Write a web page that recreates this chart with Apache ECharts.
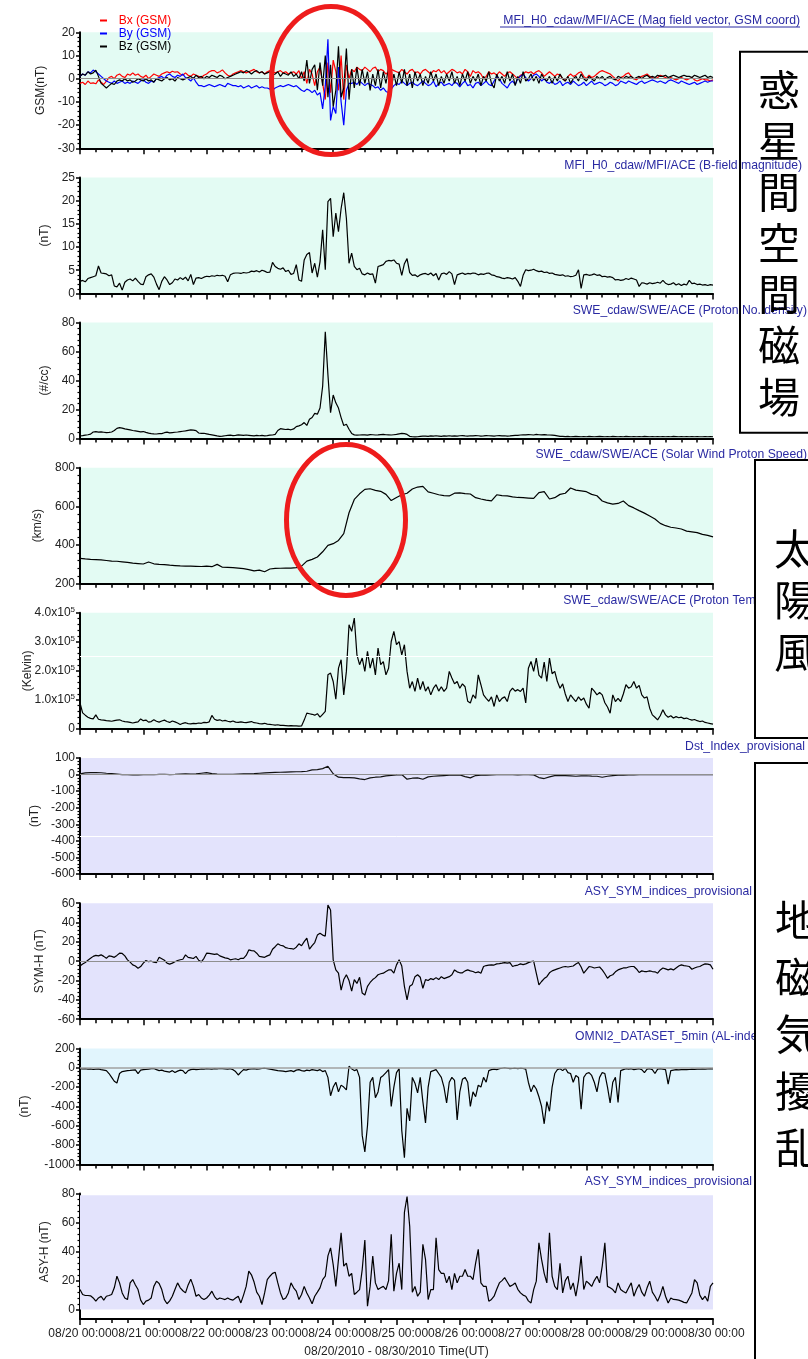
<!DOCTYPE html>
<html>
<head>
<meta charset="utf-8">
<script src="https://cdn.jsdelivr.net/npm/echarts@6/dist/echarts.min.js"></script>
<style>
  html, body { margin: 0; padding: 0; background: #ffffff; }
  #chart { width: 808px; height: 1359px; }
</style>
</head>
<body>
<div id="chart"></div>
<script>
// ACE solar wind / geomagnetic index stack, 2010-08-20 00:00 to 2010-08-30 00:00 UT.
// Hourly series start at 08/20 00:00 (hour 0); the *2h series are sampled every 2 hours.

const dayLabels = ['08/20 00:00', '08/21 00:00', '08/22 00:00', '08/23 00:00', '08/24 00:00',
  '08/25 00:00', '08/26 00:00', '08/27 00:00', '08/28 00:00', '08/29 00:00', '08/30 00:00'];

// IMF components, GSM (nT), hourly
const bx = [
  -2, -1.5, -2.5, -1, -2, -1.8, -2.2, -0.5, -1.5, -2.5, -1,
  0.5, 1, 0, 1.5, 2, 1, 0.5, 2, 1.5, 2.5,
  1.5, 2, 1, 0.5, 1.5, 0, 1, 2, 1.5, 1,
  2, 2.5, 3, 2.5, 3.2, 2.8, 3, 2, 1.5, 2.5,
  1.5, 1, 2, 1.5, 1, 0.5, 1.5, 2, 3, 3.5,
  3.5, 2.5, 3, 3.8, 2.5, 1.5, 1, 2, 2.5, 3,
  3.5, 3, 2.5, 3, 3.5, 4, 3, 2.5, 3, 2,
  3, 3.5, 3, 2.5, 3, 3.5, 2.5, 3, 2, 2.5,
  3, 2, 3.5, 0, 3, -2, 4, 2, -3, 3,
  5, -2, -9, 7, -6, 8, 3, -5, 10, -9,
  6, 0, 4, 3, 5, 4, 3.5, 5, 4, 3,
  4.5, 5, 3, 4, 3.5, 2, 3, 4, 3.5, 3,
  2.5, 4, 3, 2, 3.5, 4, 2.5, 3, 2, 3.5,
  4, 3, 2, 3.5, 3, 4, 2.5, 3.5, 2, 3,
  4, 3.5, 2.5, 3, 2, 4, 3, 1, 3.5, 2.5,
  3, 2, 0, 1, 3, 2, 2.5, 1.5, 3, 2,
  1, 2.5, 3, 2, 1, 0, 1.5, 2, 3, 2.5,
  3, 2, 3, 3.5, 2.5, 1, 2, 3, 2, 1,
  2, 1.5, 0, -1, 1, 2, 1, 1.5, 2.5, 3,
  1, 0, 1.5, 0.5, 1, 2, 3, 3.5, 3, 2.5,
  2, 1, 0, -1, 0.5, 1, 2, 2.5, 1, 0,
  -0.5, 0.5, 1, 1.5, 2, 1, 0.5, 0, 0.5, 1.5,
  1, 0.5, 0, 0.5, 0, -0.5, 0, 0.5, 0, -0.5,
  0, 0.5, -0.5, -1, -0.5, 0, -0.5, -0.5, -1, -0.5
];
const by = [
  1, 2, 1.5, 3, 2.5, 3.7, 3, 2, 1, 0, -1,
  -1.5, -2, -1, -2, -1.5, -1, -2, -1.5, -2, -1,
  -1.5, -2, -1, -0.5, -1.5, -2, -1, -1.5, 0, 0.5,
  1, 0, 1.5, 2, 1, 0.5, 1.5, 1, 2, 0.5,
  0, -1, 0.5, -1.5, -3, -3, -3.5, -3, -2.5, -3,
  -3.5, -3, -2.5, -3, -3.5, -2, -2.5, -3, -3, -3.5,
  -3, -4, -3.5, -3, -4, -3.5, -3, -4, -3.5, -4,
  -4, -4.5, -5, -4, -3.5, -3, -3.5, -3, -2.5, -3,
  -3.5, -3, -4, -5, -5.5, -4.5, -5, -6, -5, -7,
  -6, -13, -3, 17, -18, -12, -15, 5, -10, -20,
  -5, -2, -2, -1.5, -2.5, -1, -2, -3, -2, -2.5,
  -3, -4, -3.5, -5, -4, -5.5, -6, -4.5, -3, -2,
  -2.5, -1, -2, -3, -2, -1.5, -2.5, -3, -2, -1,
  -2, -3, -2.5, -1, -3.5, -2, -1.5, -3, -2.5, -2,
  -3, -1.5, -2, -3.5, -2, -1, -3, -2.5, -4, -2,
  -1.5, -3, -2, -1, -2.5, -3, -1, 1, 0, -2,
  -3, -4, -2, -1, -2.5, 0, 1, 2, 0.5, -1,
  0, 1.5, 2, 1, -1, 0, -1.5, -2, -1, -2.5,
  -2, -1, -3, -2, -1.5, -2.5, -1, -2, -3, -2.5,
  -1.5, -3, -2, -1, -2.5, -2, -1.5, -2, -3, -2.5,
  -1.5, -2, -3, -2.5, -1, -1.5, -2, -1, -1.5, -2,
  -2.5, -1.5, -1, -2, -1.5, -1, -0.5, -1, -1.5, -1,
  -1.5, -2, -1, -0.5, -1, -1.5, -2, -1, -1.5, -2,
  -2.5, -2, -1.5, -2.5, -2, -1.5, -1, -1.5, -1, -1
];
const bz = [
  1, 2, 1.5, 3, 2, 2.5, 3.7, 1, -2, -3, -4,
  -3, -2, -2.5, -1, -0.5, -1, 0, -1, -0.5, -1.5,
  -1, 0, -0.5, -1, 0, -1, -0.5, -1.5, 0, -0.5,
  -1, 0, 0.5, -0.5, 0, -1, 0.5, 0, -0.5, 0,
  0.5, 1, 0, 1.5, 0.5, 1, 0, 1, 0.5, 1.5,
  1, 0.5, 1.5, 1, 0, 0.5, 1, 1.5, 2, 2.5,
  3, 2.5, 3.5, 3, 2, 3, 3.5, 2.5, 3, 2,
  2.5, 3, 1.5, 2, 3, 1, 2.5, 2, 1.5, 3,
  1, 2, 0, 3, -1, 8, -2, 4, 6, -5,
  7, -3, 10, -8, 6, -12, -5, 14, -8, -4,
  13, -9, 4, -4, 5, -3, 4, -2, 3, -5,
  2, -3, 4, -4, 3, -2, 5, -4, 2, -3,
  3, -2, 4, -3, 2, -4, 3, -1, 2, -3,
  1, -2, 3, -1, 2, -3, 1, -2, 2, -1,
  3, -2, 1, -3, 2, -1, 3, -2, 1, -1,
  2, -3, 1, -1, 3, -2, -4, 2, -1, 1,
  -2, 3, -1, 2, -3, 1, -2, 3, -1, 0,
  2, -1, 1, -2, 2, 0, -1, 1, -2, 1,
  -1, 2, 0, -1, 1, -2, 0, 1, -1, 2,
  0, -1, 1, 0, -1, 1, 0, 1, -0.5, 0.5,
  1, 0, -0.5, 1, 0.5, 0, 1, 0.5, 1, 0,
  0.5, 1, 0, 1, 1.5, 0.5, 1, 0.5, 1.5, 1,
  1, 1.5, 0.5, 1, 1.5, 1, 0.5, 1, 1.5, 1,
  1, 0.5, 1.5, 1, 0.5, 1, 1.5, 0.5, 1, 0.5
];
// |B| (nT), hourly
const bmag = [
  2.6, 2.8, 2.5, 3.2, 3.4, 3.6, 3.8, 5.9, 4.4, 4.3, 4.2,
  3.8, 4.0, 1.6, 1.4, 2.2, 0.7, 2.4, 2.9, 3.1, 2.7,
  3.3, 2.6, 2.0, 1.9, 3.6, 4.0, 4.2, 3.5, 2.0, 0.8,
  2.6, 3.6, 2.9, 1.9, 2.3, 3.1, 2.9, 3.4, 3.0, 3.5,
  2.7, 4.1, 1.9, 3.3, 3.4, 3.2, 3.5, 3.7, 3.6, 3.8,
  3.7, 3.9, 3.8, 3.9, 3.7, 2.5, 4.0, 4.3, 4.4, 4.4,
  4.3, 4.5, 4.4, 4.5, 4.8, 4.7, 4.9, 4.6, 5.0, 4.8,
  4.5, 4.6, 6.7, 5.8, 5.4, 5.2, 5.5, 4.7, 5.0, 4.1,
  4.3, 6.2, 2.9, 2.6, 7.2, 8.4, 8.8, 4.4, 6.5, 3.5,
  6.8, 13.7, 5.1, 19.8, 20.5, 12.2, 17.3, 13.3, 18.3, 21.7,
  16.2, 6.5, 8.7, 5.8, 5.1, 5.4, 4.2, 4.0, 4.4, 4.1,
  4.2, 2.2, 5.8, 6.0, 6.2, 6.9, 7.1, 7.0, 7.2, 6.5,
  6.3, 3.9, 6.4, 7.5, 4.5, 3.9, 4.0, 3.6, 4.0, 4.2,
  4.3, 4.0, 4.4, 3.8, 4.3, 2.9, 4.2, 4.4, 4.1, 4.7,
  4.2, 1.9, 4.0, 4.2, 4.4, 4.1, 4.3, 4.2, 4.4, 4.3,
  4.0, 4.2, 4.1, 4.3, 4.4, 4.0, 3.9, 3.6, 3.5, 3.3,
  3.2, 3.4, 3.3, 3.1, 3.4, 2.6, 1.5, 3.9, 5.1, 4.9,
  5.0, 5.2, 4.9, 4.7, 4.8, 4.5, 4.6, 4.3, 4.4, 4.1,
  4.0, 3.9, 4.0, 3.7, 3.8, 3.6, 3.7, 3.9, 5.1, 1.1,
  4.0, 4.1, 3.9, 4.0, 4.2, 3.9, 4.0, 3.6, 3.7, 3.5,
  3.6, 3.4, 2.9, 3.0, 2.8, 2.9, 3.2, 3.0, 3.3, 3.1,
  2.9, 1.5, 2.3, 2.2, 2.0, 2.3, 2.1, 2.2, 2.4, 2.2,
  2.8, 2.2, 1.9, 2.0, 2.3, 1.8, 2.1, 1.7, 2.0, 1.8,
  2.8, 2.1, 2.2, 1.9, 2.0, 1.8, 1.9, 1.7, 1.9, 1.8
];
// Proton number density (#/cc), hourly
const density = [
  1.8, 2.0, 2.3, 2.6, 3.0, 4.5, 4.8, 4.4, 4.6, 4.3, 4.0,
  4.2, 4.5, 5.5, 7.0, 7.5, 7.2, 6.6, 6.3, 5.9, 5.5,
  5.2, 4.9, 4.6, 4.8, 4.2, 3.7, 3.4, 3.2, 3.1, 3.3,
  3.4, 4.0, 4.4, 3.9, 4.1, 4.3, 4.5, 4.8, 5.0, 5.2,
  5.6, 6.0, 5.8, 5.4, 3.8, 3.5, 3.6, 3.2, 2.8, 2.5,
  2.2, 1.8, 1.5, 1.6, 1.9, 2.1, 2.3, 2.0, 2.2, 2.5,
  2.3, 2.1, 2.4, 2.2, 2.0, 1.8, 2.1, 1.9, 2.2, 1.8,
  2.0, 2.3, 2.4, 2.8, 5.5, 6.8, 6.5, 6.2, 6.4, 6.0,
  6.6, 8.2, 8.7, 9.5, 11.0, 9.0, 13.2, 14.5, 17.3, 16.8,
  21.0, 36.0, 73.6, 44.0, 17.8, 30.0, 24.6, 21.0, 14.4, 9.0,
  9.8, 6.4, 3.5, 2.5, 2.3, 2.4, 2.6, 2.5, 2.3, 2.7,
  2.6, 2.4, 2.5, 2.7, 2.8, 2.6, 2.5, 2.4, 2.6, 2.8,
  3.2, 3.5, 3.4, 2.8, 1.5, 1.2, 1.1, 1.2, 1.4, 1.6,
  1.7, 1.5, 1.8, 1.6, 1.9, 1.7, 1.5, 1.8, 1.6, 1.9,
  1.7, 1.8, 1.6, 1.9, 2.0, 1.8, 1.7, 1.9, 1.8, 2.0,
  1.9, 1.7, 1.8, 2.0, 1.9, 1.8, 1.7, 1.9, 2.0, 1.8,
  1.9, 1.7, 1.8, 2.0, 2.1, 2.2, 2.4, 2.6, 2.5, 2.7,
  2.6, 2.4, 2.8, 2.6, 2.5, 2.7, 2.5, 2.4, 2.3, 2.1,
  1.8, 1.5, 1.4, 1.3, 1.4, 1.2, 1.3, 1.4, 1.3, 1.2,
  1.3, 1.2, 1.4, 1.3, 1.2, 1.3, 1.4, 1.3, 1.2, 1.3,
  1.2, 1.4, 1.3, 1.2, 1.3, 1.2, 1.4, 1.3, 1.2, 1.3,
  1.2, 1.3, 1.2, 1.4, 1.3, 1.2, 1.3, 1.2, 1.3, 1.2,
  1.3, 1.2, 1.3, 1.2, 1.4, 1.3, 1.2, 1.3, 1.2, 1.3,
  1.2, 1.3, 1.2, 1.3, 1.2, 1.2, 1.3, 1.2, 1.3, 1.2
];
// Solar wind proton speed (km/s), every 2 hours
const speed2h = [
  331, 328, 326, 325, 323, 320, 317, 316, 313, 310,
  306, 304, 302, 312, 303, 300, 299, 296, 294, 292,
  291, 291, 290, 289, 291, 288, 300, 285, 284, 283,
  281, 278, 273, 266, 270, 262, 276, 279, 280, 281,
  281, 283, 291, 317, 326, 338, 365, 398, 407, 424,
  459, 567, 636, 665, 688, 691, 683, 678, 662, 630,
  646, 660, 668, 690, 700, 703, 675, 668, 660, 656,
  654, 668, 670, 666, 664, 645, 638, 632, 628, 660,
  656, 654, 649, 646, 645, 643, 641, 671, 676, 638,
  645, 662, 668, 695, 684, 680, 676, 662, 655, 628,
  618, 612, 615, 628, 604, 592, 578, 565, 550, 535,
  512, 500, 492, 488, 483, 472, 468, 464, 455, 450,
  442
];
// Proton temperature (units of 1e5 K), hourly
const tempE5 = [
  0.89, 0.55, 0.47, 0.40, 0.36, 0.34, 0.48, 0.33, 0.31, 0.30, 0.28,
  0.27, 0.26, 0.28, 0.30, 0.31, 0.27, 0.25, 0.24, 0.22, 0.20,
  0.22, 0.24, 0.34, 0.28, 0.30, 0.23, 0.25, 0.31, 0.26, 0.23,
  0.27, 0.30, 0.25, 0.22, 0.27, 0.24, 0.20, 0.15, 0.19, 0.21,
  0.18, 0.17, 0.19, 0.18, 0.20, 0.19, 0.22, 0.21, 0.24, 0.46,
  0.33, 0.29, 0.31, 0.27, 0.29, 0.26, 0.24, 0.27, 0.23, 0.22,
  0.24, 0.22, 0.21, 0.23, 0.25, 0.21, 0.20, 0.18, 0.17, 0.19,
  0.16, 0.15, 0.14, 0.13, 0.14, 0.12, 0.12, 0.11, 0.10, 0.11,
  0.10, 0.10, 0.09, 0.10, 0.30, 0.54, 0.52, 0.50, 0.47, 0.52,
  0.40, 0.50, 0.60, 1.86, 1.92, 1.63, 1.02, 2.09, 2.38, 1.17,
  1.98, 3.59, 3.36, 3.82, 2.55, 2.21, 2.44, 1.98, 2.67, 2.09,
  2.44, 1.86, 2.78, 2.21, 2.32, 1.86, 2.09, 3.01, 3.36, 2.90,
  3.01, 2.55, 2.90, 1.98, 1.40, 1.63, 1.29, 1.75, 1.35, 1.63,
  1.30, 1.45, 1.17, 1.40, 1.52, 1.30, 1.45, 1.29, 1.40, 1.98,
  1.75, 1.55, 1.63, 1.40, 1.55, 1.45, 0.95, 0.89, 1.17, 1.05,
  1.86, 1.52, 1.17, 1.05, 0.95, 1.10, 0.77, 1.17, 0.94, 1.05,
  1.10, 0.94, 1.29, 1.40, 1.30, 1.35, 1.29, 1.40, 0.89, 2.09,
  2.32, 1.98, 2.44, 1.85, 1.75, 2.30, 1.63, 2.44, 1.90, 1.98,
  1.63, 1.40, 1.55, 1.20, 0.94, 1.17, 1.05, 0.94, 1.10, 0.98,
  1.06, 0.85, 0.71, 1.40, 1.30, 1.17, 1.25, 1.17, 0.90, 0.75,
  0.54, 1.17, 0.94, 1.05, 0.94, 1.20, 1.52, 1.40, 1.45, 1.63,
  1.40, 1.50, 1.17, 1.06, 1.10, 0.71, 0.48, 0.40, 0.31, 0.45,
  0.66, 0.48, 0.40, 0.45, 0.37, 0.42, 0.38, 0.40, 0.35, 0.37,
  0.33, 0.30, 0.32, 0.28, 0.25, 0.27, 0.22, 0.20, 0.18, 0.16
];
// Dst index (nT), every 2 hours
const dst2h = [
  4, 10, 12, 12, 11, 8, 6, 3, 0, -1,
  -2, -2, -1, 0, -1, 1, 2, 0, 1, 3,
  4, 3, 4, 8, 12, 6, 3, 2, 1, 2,
  3, 4, 5, 6, 8, 10, 12, 13, 14, 15,
  16, 17, 18, 20, 28, 30, 36, 50, 5, -16,
  -18, -19, -20, -26, -30, -20, -16, -14, -8, -5,
  -2, 0, -28, -22, -20, -28, -14, -10, -8, -6,
  -4, -3, -2, -12, -20, -6, -4, -3, -2, -1,
  -1, 0, -1, -2, -1, 0, -2, -18, -24, -14,
  -6, -5, -6, -8, -10, -8, -7, -9, -10, -16,
  -10, -6, -4, -3, -2, -2, -1, -1, -1, 0,
  -1, -1, 0, 0, -1, 0, 0, -1, 0, 0,
  0
];
// SYM-H (nT), hourly
const symH = [
  -5, -3, -1.4, 1, 3, 5, 6, 5.5, 6.6, 5, 3,
  5.5, 5, 4, 6, 8.3, 8, 5.5, 1.4, -1, -3.8,
  -5, -7.2, -5.5, -2, 0.7, -0.5, 0, -1, -1.4, 4,
  2.5, 1, -2, -3, -2, -0.5, 0.7, 1.5, 2, 6.6,
  4, 3.5, 2.8, 5, 1, -0.7, 3, 8.3, 8, 7.6,
  7, 7.6, 5.5, 4.5, 3.5, 3, 1.4, 2, 2.5, 1.5,
  3, 3, 6, 11.7, 11, 10.7, 8.3, 5, 4.5, 4,
  5.5, 6.6, 12.4, 15, 18, 16.5, 15.9, 14, 13.4, 13.1,
  12.5, 14.5, 18, 16, 20.3, 23.8, 12.4, 16, 19.3, 27,
  29, 27, 26, 58, 53, 1.4, -9, -12.4, -30, -19,
  -14, -20, -31, -19, -23, -16.6, -33, -35, -26, -22,
  -19, -17, -14, -13, -12.4, -10.7, -9, -9, -12.4, -3.8,
  1.4, -5, -26, -40, -26, -24, -16, -14, -16.6, -28,
  -19, -20, -18, -19, -17, -19, -16, -18, -17, -16,
  -14, -9, -11, -12, -12, -10, -9, -10, -10.7, -12,
  -11, -12.4, -5.5, -4.5, -4, -3.8, -4, -2.8, -2.5, -2,
  -1.4, -2, -1.4, -5.5, -4.5, -4, -2.8, -3.5, -2.8, -1.5,
  -0.5, 0, -12.4, -24.5, -21, -18, -16, -12, -10, -9,
  -8, -7, -6, -5.5, -6, -5.5, -5, -3, -1.4, -6,
  -12.4, -9, -5.5, -6, -7, -6.5, -6, -9, -13, -17.6,
  -15, -14, -11, -9, -8, -7, -7, -6, -5.5, -5.5,
  -8, -11.7, -10, -10.7, -10.7, -10, -10.7, -11, -12.4, -9,
  -7, -8, -9, -8, -9, -7, -5, -3.8, -4.5, -5,
  -5.5, -8.3, -7, -6, -5.5, -4, -2.8, -3, -3.8, -8.3
];
// AL index (nT), hourly
const al = [
  -10, -12, -10, -15, -12, -18, -15, -12, -20, -25, -30,
  -60, -100, -140, -158, -60, -40, -35, -30, -28, -25,
  -22, -60, -25, -20, -18, -15, -10, -8, -20, -30,
  -25, -35, -40, -45, -30, -50, -35, -25, -30, -60,
  -30, -20, -15, -20, -18, -12, -15, -10, -12, -15,
  -10, -12, -8, -10, -12, -15, -10, -20, -40, -75,
  -45, -20, -25, -15, -12, -10, -15, -12, -8, -5,
  -10, -15, -20, -25, -30, -32, -35, -40, -35, -30,
  -40, -25, -20, -30, -35, -25, -30, -20, -25, -30,
  -20, -40, -30, -100, -290, -200, -150, -250, -180, -200,
  -230, 15, -10, -30, -20, -100, -700, -870, -600, -150,
  -100, -310, -250, -100, -80, -50, -20, -400, -200, -50,
  -10, -650, -930, -420, -550, -100, -160, -260, -100, -350,
  -570, -200, -40, -30, -20, -60, -100, -200, -365, -150,
  -100, -130, -540, -250, -120, -100, -150, -400, -250, -300,
  -180, -200, -100, -150, -30, -20, -15, -20, -10, -5,
  0, -5, -10, -8, -5, -10, -5, -8, -15, -150,
  -250, -180, -220, -300, -400, -580, -350, -450, -200, -60,
  -20, -10, -30, -5, -50, -60, -150, -80, -100, -430,
  -100, -60, -50, -80, -150, -250, -100, -50, -60, -200,
  -365, -150, -100, -360, -30, -20, -10, -15, -10, -20,
  -15, -10, -20, -50, -15, -10, -20, -60, -15, -10,
  -15, -20, -170, -30, -25, -20, -22, -20, -18, -20,
  -18, -15, -16, -14, -15, -12, -14, -12, -10, -12
];
// ASY-H (nT), hourly
const asyH = [
  13.8, 10.4, 9.7, 9.7, 9.5, 8, 5.8, 8, 9.2, 6.5, 9.2,
  9.7, 10.4, 15, 23, 18.4, 11.5, 8, 6.9, 18.4, 20.7,
  17, 13.8, 6.5, 3.5, 5.8, 6.5, 8, 16, 19.6, 18,
  13.8, 6.9, 4, 6, 9.2, 13.8, 18.4, 15, 13, 11.5,
  17, 21, 16, 9.2, 10.4, 8, 6.9, 8, 10, 12.7,
  9, 6.9, 8, 7.5, 6.9, 8, 7, 6.5, 8, 9.2,
  4.6, 10, 16, 26.5, 24, 19, 12, 9.2, 3.5, 11.5,
  20.7, 23, 25, 25.8, 18.4, 11.5, 6.9, 8, 11.5, 18.4,
  15, 12.7, 6.9, 10.4, 16, 11.5, 8, 4, 9.2, 12,
  15, 20.7, 23, 37, 42.6, 31, 16, 34.6, 53, 30,
  32, 23, 25, 10.4, 12, 13.8, 27.6, 48, 2.3, 16,
  37, 18.4, 13.8, 15, 16, 13.8, 20, 52, 12.7, 25,
  32, 13.8, 67, 78, 57.6, 12, 16, 9.2, 12, 45,
  34.6, 6.9, 13.8, 13.8, 49.5, 27.6, 25, 25, 18.4, 23,
  13.8, 25, 18.4, 23, 23, 27.6, 23, 23, 20.7, 32,
  41.5, 18.4, 16, 16, 5.8, 7, 9.2, 14, 18.4, 20,
  22, 19, 16, 17, 18.4, 14, 11.5, 10, 9.2, 6,
  4.6, 13.8, 19.6, 46, 34.6, 25, 18.4, 53, 23, 16,
  13.8, 32, 11.5, 20, 23, 13.8, 18.4, 9.2, 20, 37,
  13.8, 19.6, 18, 16, 20, 23, 18.4, 30, 46, 16,
  15, 13.8, 11.5, 18.4, 13.8, 12.5, 11.5, 15, 18.4, 9.2,
  14, 17.3, 12, 9.2, 15, 19.6, 12, 9.2, 5.8, 10,
  16, 9.2, 4.6, 8, 7, 6.9, 6.5, 5.8, 5, 4.6,
  8, 11.5, 20.7, 18.4, 10, 6.9, 9.2, 5.8, 16, 18.4
];

const panelTitles = [
  'MFI_H0_cdaw/MFI/ACE (Mag field vector, GSM coord)',
  'MFI_H0_cdaw/MFI/ACE (B-field magnitude)',
  'SWE_cdaw/SWE/ACE (Proton No. density)',
  'SWE_cdaw/SWE/ACE (Solar Wind Proton Speed)',
  'SWE_cdaw/SWE/ACE (Proton Temperature)',
  'Dst_Index_provisional',
  'ASY_SYM_indices_provisional',
  'OMNI2_DATASET_5min (AL-index)',
  'ASY_SYM_indices_provisional'
];
const axisNames = ['GSM(nT)', '(nT)', '(#/cc)', '(km/s)', '(Kelvin)', '(nT)', 'SYM-H (nT)', '(nT)', 'ASY-H (nT)'];
const sideLabels = ['惑星間空間磁場', '太陽風', '地磁気擾乱'];

// ---------- layout / style ----------
const FONT = '"Liberation Sans", Arial, Helvetica, sans-serif';
const CJK = '"Noto Sans CJK JP", "Noto Sans CJK SC", sans-serif';
const MINT = '#e3fbf3', LAV = '#e3e3fc', SKY = '#e1f5fd';
const TITLE_BLUE = '#2a2aa2';
const PLOT_LEFT = 80, PLOT_RIGHT = 713, W = 808;

const panels = [
  { top: 32.3,   h: 116, min: -30,  max: 20,  iv: 10,  bg: MINT, nameCx: 43 },
  { top: 177.4,  h: 116, min: 0,    max: 25,  iv: 5,   bg: MINT, nameCx: 47 },
  { top: 322.5,  h: 116, min: 0,    max: 80,  iv: 20,  bg: MINT, nameCx: 47 },
  { top: 467.7,  h: 116, min: 200,  max: 800, iv: 200, bg: MINT, nameCx: 40 },
  { top: 612.8,  h: 116, min: 0,    max: 4,   iv: 1,   bg: MINT, nameCx: 30 },
  { top: 758.0,  h: 116, min: -600, max: 100, iv: 100, bg: LAV,  nameCx: 37 },
  { top: 903.2,  h: 116, min: -60,  max: 60,  iv: 20,  bg: LAV,  nameCx: 42 },
  { top: 1048.4, h: 116, min: -1000, max: 200, iv: 200, bg: SKY, nameCx: 27 },
  { top: 1193.6, h: 125.8, min: -6.5, max: 80, iv: null, bg: null, nameCx: 47 }
];
const titleY = [20.7, 166, 310.7, 455, 600.7, 747, 891.7, 1036.7, 1181.7];
const titleRight = [800, 802, 807, 807, 805, 805, 752, null, 752];
const titleLeft = [null, null, null, null, null, null, null, 575, null];

const tickFont = { fontFamily: FONT, fontSize: 12, color: '#222' };

const grid = [], xAxis = [], yAxis = [];
panels.forEach((p, i) => {
  grid.push({
    left: PLOT_LEFT, right: W - PLOT_RIGHT, top: p.top, height: p.h,
    show: !!p.bg, backgroundColor: p.bg || 'transparent', borderWidth: 0
  });
  const last = i === panels.length - 1;
  xAxis.push({
    type: 'value', gridIndex: i, min: 0, max: 240, interval: 24,
    axisLine: { show: true, onZero: false, lineStyle: { color: '#000', width: 2 } },
    axisTick: { show: true, length: 6, lineStyle: { color: '#000', width: 1.5 } },
    minorTick: { show: true, splitNumber: 4, length: 4, lineStyle: { color: '#000', width: 1.5 } },
    splitLine: { show: false }, minorSplitLine: { show: false },
    axisLabel: last ? Object.assign({ show: true, margin: 9, formatter: v => dayLabels[Math.round(v / 24)] }, tickFont)
                    : { show: false },
    name: last ? '08/20/2010 - 08/30/2010 Time(UT)' : '',
    nameLocation: 'middle', nameGap: 27,
    nameTextStyle: { fontFamily: FONT, fontSize: 12, color: '#222' }
  });
  const y = {
    type: 'value', gridIndex: i, min: p.min, max: p.max,
    axisLine: { show: true, onZero: false, lineStyle: { color: '#000', width: 2 } },
    axisTick: { show: true, length: 4, lineStyle: { color: '#000', width: 1.5 } },
    minorTick: { show: true, splitNumber: 5, length: 2.5, lineStyle: { color: '#000', width: 1.2 } },
    splitLine: { show: false }, minorSplitLine: { show: false },
    axisLabel: Object.assign({ margin: 5, formatter: v => String(v) }, tickFont),
    name: axisNames[i], nameLocation: 'middle', nameGap: PLOT_LEFT - p.nameCx - 4,
    nameMoveOverlap: false,
    nameTextStyle: { fontFamily: FONT, fontSize: 12, color: '#222' }
  };
  if (p.iv !== null) y.interval = p.iv;
  yAxis.push(y);
});

// temperature labels as n.0x10^5
yAxis[4].axisLabel.formatter = v => v === 0 ? '0' : '{b|' + v.toFixed(1) + 'x10}{s|5}';
yAxis[4].axisLabel.rich = {
  b: { fontFamily: FONT, fontSize: 12, color: '#222' },
  s: { fontFamily: FONT, fontSize: 8, color: '#222', padding: [0, 0, 7, 0] }
};
// ASY-H axis: labelled 0..80, axis line sits a little below zero
const asyMajor = [0, 20, 40, 60, 80];
const asyMinor = [];
for (let v = 4; v < 80; v += 4) if (v % 20 !== 0) asyMinor.push(v);
yAxis[8].axisTick.customValues = asyMajor;
yAxis[8].axisLabel.customValues = asyMajor;
yAxis[8].minorTick = { show: false };
yAxis[8].nameTextStyle.padding = [0, 0, 0, 9];
yAxis.push({
  type: 'value', gridIndex: 8, min: -6.5, max: 80, position: 'left',
  axisLine: { show: false }, axisLabel: { show: false }, splitLine: { show: false },
  axisTick: { show: true, length: 2.5, customValues: asyMinor, lineStyle: { color: '#000', width: 1.2 } }
});

function pts(arr, stepHours) { return arr.map((v, i) => [i * stepHours, v]); }
function refLine(values, color, width) {
  return {
    silent: true, symbol: 'none', animation: false, label: { show: false },
    lineStyle: { color: color, width: width, type: 'solid' },
    data: values.map(v => ({ yAxis: v }))
  };
}
function lineSeries(name, idx, data, color, extra) {
  return Object.assign({
    name: name, type: 'line', xAxisIndex: idx, yAxisIndex: idx, data: data,
    showSymbol: false, symbol: 'none', silent: true, animation: false,
    lineStyle: { color: color, width: 1.2 }, itemStyle: { color: color }
  }, extra || {});
}
const GREY = '#909090';

const series = [
  lineSeries('Bx (GSM)', 0, pts(bx, 1), '#ff0000'),
  lineSeries('By (GSM)', 0, pts(by, 1), '#0000ff'),
  lineSeries('Bz (GSM)', 0, pts(bz, 1), '#000000', { markLine: refLine([0], GREY, 1) }),
  lineSeries('|B|', 1, pts(bmag, 1), '#000'),
  lineSeries('Np', 2, pts(density, 1), '#000'),
  lineSeries('Vsw', 3, pts(speed2h, 2), '#000'),
  lineSeries('Tp', 4, pts(tempE5, 1), '#000', { markLine: refLine([2.5], '#ffffff', 1) }),
  lineSeries('Dst', 5, pts(dst2h, 2), '#111', { markLine: refLine([0, -370], GREY, 1) }),
  lineSeries('SYM-H', 6, pts(symH, 1), '#000', { markLine: refLine([0], GREY, 1) }),
  lineSeries('AL', 7, pts(al, 1), '#000', { markLine: refLine([0], '#a0a0a0', 1.5) }),
  lineSeries('ASY-H', 8, pts(asyH, 1), '#000', {
    markArea: { silent: true, itemStyle: { color: LAV }, data: [[{ yAxis: 0 }, { yAxis: 78.8 }]] }
  })
];
// Dst threshold line is white, the zero line grey
series[7].markLine.data = [
  { yAxis: 0, lineStyle: { color: GREY, width: 1 } },
  { yAxis: -370, lineStyle: { color: '#ffffff', width: 1 } }
];

// ---------- annotations ----------
const graphic = [];
panelTitles.forEach((t, i) => {
  const right = titleRight[i];
  graphic.push({
    type: 'text', z: 10,
    x: right !== null ? right : titleLeft[i], y: titleY[i],
    style: {
      text: t, fill: TITLE_BLUE, font: '12.2px ' + FONT,
      textAlign: right !== null ? 'right' : 'left', textVerticalAlign: 'middle'
    }
  });
});
graphic.push({ type: 'line', z: 10, shape: { x1: 500, y1: 27, x2: 800, y2: 27 },
  style: { stroke: TITLE_BLUE, lineWidth: 1 } });

// side boxes
const boxes = [
  { x: 740, y: 51.7, h: 381, fill: 'none', cx: 779, cy0: 90, step: 51.1 },
  { x: 755, y: 460, h: 278, fill: '#ffffff', cx: 795, cy0: 549, step: 51.5 },
  { x: 755, y: 763, h: 640, fill: '#ffffff', cx: 796, cy0: 920, step: 57 }
];
boxes.forEach((b, k) => {
  graphic.push({ type: 'rect', z: 20, shape: { x: b.x, y: b.y, width: 120, height: b.h },
    style: { fill: b.fill, stroke: '#000', lineWidth: 2 } });
  Array.from(sideLabels[k]).forEach((ch, j) => {
    graphic.push({ type: 'text', z: 21, x: b.cx, y: b.cy0 + j * b.step,
      style: { text: ch, fill: '#000', font: '42px ' + CJK, textAlign: 'center', textVerticalAlign: 'middle' } });
  });
});

// highlight rings
graphic.push({ type: 'ellipse', z: 30, shape: { cx: 331, cy: 80.5, rx: 59.5, ry: 74 },
  style: { fill: 'none', stroke: '#ee1c1c', lineWidth: 5 } });
graphic.push({ type: 'ellipse', z: 30, shape: { cx: 346, cy: 520, rx: 59.5, ry: 75.5 },
  style: { fill: 'none', stroke: '#ee1c1c', lineWidth: 5 } });

const chart = echarts.init(document.getElementById('chart'), null, { renderer: 'canvas', width: 808, height: 1359 });
chart.setOption({
  backgroundColor: '#ffffff',
  animation: false,
  textStyle: { fontFamily: FONT },
  legend: {
    orient: 'vertical', left: 100, top: 14, padding: 0, itemGap: 0,
    itemWidth: 7, itemHeight: 2, icon: 'rect', selectedMode: false,
    formatter: '  {name}',
    textStyle: { fontFamily: FONT, fontSize: 12, lineHeight: 13 },
    data: [
      { name: 'Bx (GSM)', textStyle: { color: '#ff0000' } },
      { name: 'By (GSM)', textStyle: { color: '#0000ff' } },
      { name: 'Bz (GSM)', textStyle: { color: '#000000' } }
    ]
  },
  grid: grid, xAxis: xAxis, yAxis: yAxis, series: series, graphic: graphic
});
</script>
</body>
</html>
